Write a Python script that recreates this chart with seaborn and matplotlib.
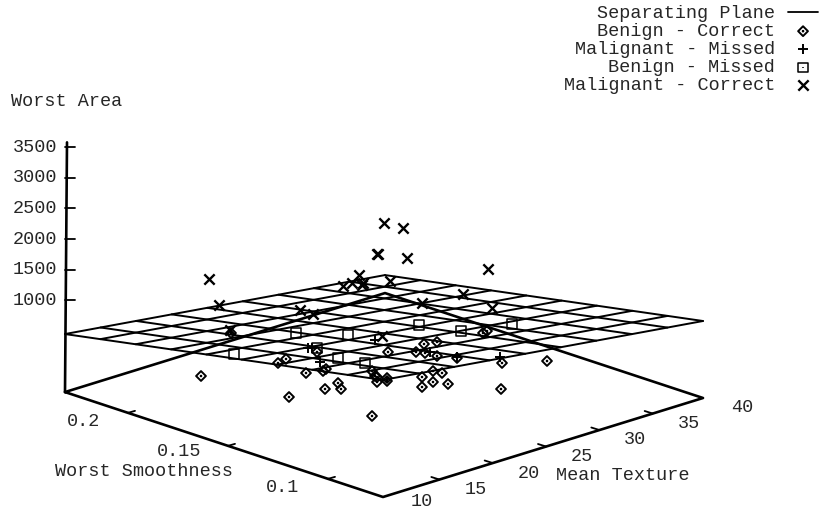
import numpy as np
import matplotlib
matplotlib.use('Agg')
import matplotlib.pyplot as plt
from matplotlib.path import Path
import seaborn as sns

# axis values
area_ticks = [1000, 1500, 2000, 2500, 3000, 3500]
texture_ticks = [10, 15, 20, 25, 30, 35, 40]
smooth_ticks = [0.1, 0.15, 0.2]
smooth_labels = ['0.1', '0.15', '0.2']

# separating plane height at the four corners of the base (area units)
plane_front = 1412
plane_right = 758
plane_back = -206
plane_left = 448

# points as they sit on the printed page
benign_correct_x = [201, 278, 286, 306, 326, 323, 338, 325, 341, 289, 372, 317, 231,
                    372, 377, 377, 483, 487, 424, 437, 388, 416, 425, 437, 457, 502,
                    547, 375, 387, 387, 422, 433, 442, 433, 448, 422, 501]
benign_correct_y = [376, 363, 359, 373, 369, 371, 383, 389, 389, 397, 416, 352, 333,
                    371, 377, 382, 333, 331, 344, 342, 352, 352, 353, 356, 358, 363,
                    361, 376, 378, 381, 377, 371, 373, 382, 384, 387, 389]
malignant_missed_x = [308, 312, 320, 375, 430, 500, 457]
malignant_missed_y = [348, 348, 362, 340, 352, 357, 357]
benign_missed_x = [296, 348, 234, 317, 338, 365, 419, 461, 512]
benign_missed_y = [333, 335, 354, 348, 358, 363, 325, 331, 324]
malignant_correct_x = [209, 219, 230, 300, 313, 343, 352, 359, 362, 377, 384, 403,
                       378, 407, 488, 390, 363, 422, 463, 492, 382]
malignant_correct_y = [279, 305, 330, 310, 314, 286, 283, 275, 285, 254, 223, 228,
                       254, 258, 269, 281, 283, 303, 294, 308, 336]

TEXTURE_MIN, TEXTURE_MAX = 10, 40
SMOOTH_MIN, SMOOTH_MAX = 0.0725, 0.2315
AREA_MIN = -500


def project(texture, smooth, area=AREA_MIN):
    """ gnuplot-like view of the 3d box on the page """
    x = 383 + (texture - TEXTURE_MIN) * 320 / 30 - (smooth - SMOOTH_MIN) * 2000
    y = 497 - (texture - TEXTURE_MIN) * 99 / 30 - (smooth - SMOOTH_MIN) * 660
    return x, y - (area - AREA_MIN) * 0.0612


def plane_area(texture, smooth):
    t = (texture - TEXTURE_MIN) / (TEXTURE_MAX - TEXTURE_MIN)
    s = (smooth - SMOOTH_MIN) / (SMOOTH_MAX - SMOOTH_MIN)
    return plane_front + t * (plane_right - plane_front) + s * (plane_left - plane_front)


def draw_line(ax, x, y, lw=1.4):
    sns.lineplot(x=x, y=y, ax=ax, color='black', linewidth=lw, sort=False,
                 estimator=None, legend=False)


def compound(poly):
    """ gnuplot point: outline with a dot in the middle """
    dot = Path.unit_rectangle().transformed(
        matplotlib.transforms.Affine2D().translate(-0.5, -0.5).scale(0.12))
    return Path.make_compound_path(poly, dot)


sns.set_style('white')
plt.rcParams['font.family'] = ['Liberation Mono', 'DejaVu Sans']
FS = 13.3

fig = plt.figure(figsize=(8.23, 5.12), dpi=100)
ax = fig.add_axes([0, 0, 1, 1])

# base of the box and the area axis
corners = [(TEXTURE_MIN, SMOOTH_MAX), (TEXTURE_MIN, SMOOTH_MIN), (TEXTURE_MAX, SMOOTH_MIN),
           (TEXTURE_MAX, SMOOTH_MAX), (TEXTURE_MIN, SMOOTH_MAX)]
bx, by = project(*np.array(corners).T)
draw_line(ax, bx, by, 1.9)
zx, zy = project(TEXTURE_MIN, SMOOTH_MAX, np.array([AREA_MIN, 3580]))
draw_line(ax, [zx, zx + 2], zy, 1.9)

for a in area_ticks:
    tx, ty = project(TEXTURE_MIN, SMOOTH_MAX, a)
    draw_line(ax, [tx, tx + 10], [ty, ty], 1.3)
    ax.text(tx - 8, ty, str(a), ha='right', va='center', fontsize=FS)

for t in texture_ticks:
    tx, ty = project(t, SMOOTH_MIN)
    if TEXTURE_MIN < t < TEXTURE_MAX:
        draw_line(ax, [tx + 3, tx - 5], [ty - 1, ty - 3.5], 1.3)
    # the 10 sits right on the bottom edge of the page
    ax.text(tx + 39, ty + (5 if t == TEXTURE_MIN else 9), str(t), ha='center', va='center',
            fontsize=FS)

for s, lab, off, dy in zip(smooth_ticks, smooth_labels, [-45, -49, -44], [9, 6, 9]):
    tx, ty = project(TEXTURE_MIN, s)
    draw_line(ax, [tx, tx + 7], [ty, ty - 2], 1.3)
    ax.text(tx + off, ty + dy, lab, ha='center', va='center', fontsize=FS)

# separating plane
for t in np.linspace(TEXTURE_MIN, TEXTURE_MAX, 10):
    s = np.array([SMOOTH_MIN, SMOOTH_MAX])
    px, py = project(t, s, plane_area(t, s))
    draw_line(ax, px, py)
for s in np.linspace(SMOOTH_MIN, SMOOTH_MAX, 10):
    t = np.array([TEXTURE_MIN, TEXTURE_MAX])
    px, py = project(t, s, plane_area(t, s))
    draw_line(ax, px, py)

diamond = compound(Path.unit_regular_polygon(4))
square = compound(Path.unit_regular_polygon(4).transformed(
    matplotlib.transforms.Affine2D().rotate_deg(45)))

sns.scatterplot(x=benign_correct_x, y=benign_correct_y, ax=ax, marker=diamond, s=50,
                facecolor='none', edgecolor='black', linewidth=1.4, label='Benign - Correct')
sns.scatterplot(x=malignant_missed_x, y=malignant_missed_y, ax=ax, marker='+', s=60,
                color='black', linewidth=1.4, label='Malignant - Missed')
sns.scatterplot(x=benign_missed_x, y=benign_missed_y, ax=ax, marker=square, s=44,
                facecolor='none', edgecolor='black', linewidth=1.1, label='Benign - Missed')
sns.scatterplot(x=malignant_correct_x, y=malignant_correct_y, ax=ax, marker='x', s=55,
                color='black', linewidth=1.7, label='Malignant - Correct')

ax.set_xlim(0, 823)
ax.set_ylim(512, 0)
ax.axis('off')

plane_handle = plt.Line2D([], [], color='black', linewidth=1.3)
handles, labels = ax.get_legend_handles_labels()
ax.legend([plane_handle] + handles, ['Separating Plane'] + labels, markerfirst=False,
          loc='upper right', bbox_to_anchor=(818 / 823, 1 - 5 / 512), frameon=False,
          fontsize=FS, labelspacing=0.055, handlelength=1.62, handletextpad=0.7,
          borderpad=0, borderaxespad=0)

ax.text(67, 101, 'Worst Area', ha='center', va='center', fontsize=FS)
ax.text(144, 471, 'Worst Smoothness', ha='center', va='center', fontsize=FS)
ax.text(623, 476, 'Mean Texture', ha='center', va='center', fontsize=FS)

fig.savefig('out.png', dpi=100)
